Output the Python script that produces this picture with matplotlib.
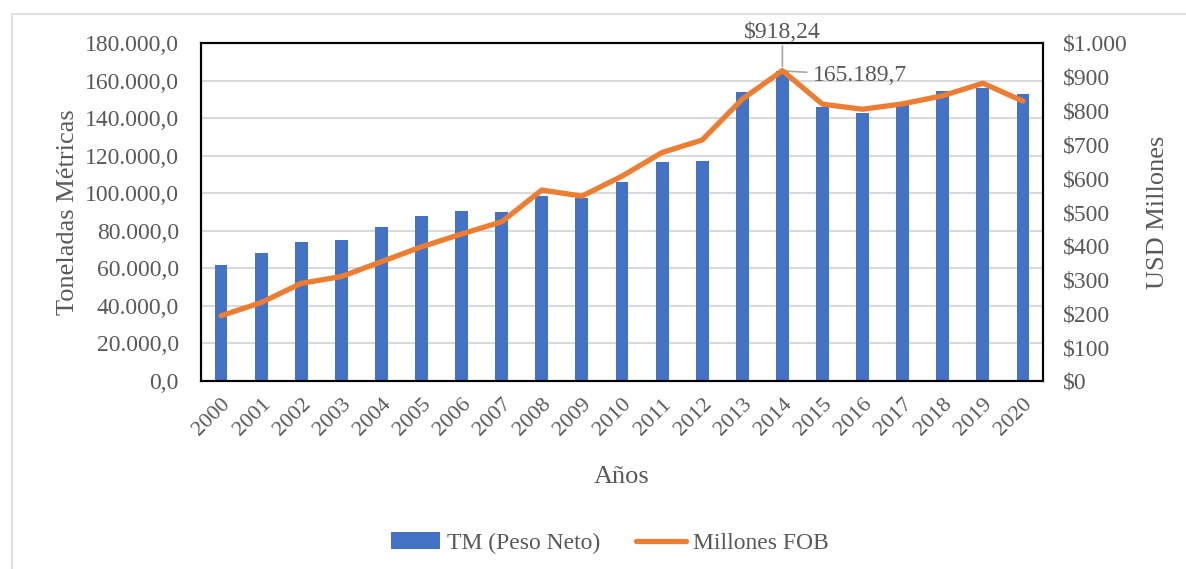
import matplotlib.pyplot as plt
from matplotlib.patches import Rectangle
from matplotlib.ticker import FuncFormatter

# datos
years = [str(y) for y in range(2000, 2021)]
toneladas = [61800, 68000, 73900, 75300, 82200, 87700, 90500, 90000, 98700, 97600,
             106100, 116600, 117300, 153700, 165189.7, 145700, 142900, 146800,
             154600, 156300, 152800]
millones_fob = [193, 232, 289, 309, 353, 397, 435, 471, 565, 547,
                606, 676, 713, 834, 918.24, 819, 804, 820, 844, 881, 828]

GRAY = '#595959'
BLUE = '#4472C4'
ORANGE = '#ED7D31'

plt.rcParams['font.family'] = ['Liberation Serif', 'DejaVu Serif']
plt.rcParams['font.size'] = 17

fig = plt.figure(figsize=(11.86, 5.69), dpi=100)
fig.patches.append(Rectangle((12 / 1186, -0.1), 1.2, (569 - 14) / 569 + 0.1,
                             transform=fig.transFigure, fill=False,
                             edgecolor='#d9d9d9', linewidth=1.2))

ax = fig.add_axes([201 / 1186, (569 - 381) / 569, 842 / 1186, 338 / 569])
x = list(range(len(years)))
ax.bar(x, toneladas, width=0.32, color=BLUE, label='TM (Peso Neto)', zorder=2)
ax.set_ylim(0, 180000)
ax.set_yticks(range(0, 180001, 20000))
ax.yaxis.set_major_formatter(FuncFormatter(
    lambda v, p: f"{v:,.1f}".replace(',', 'X').replace('.', ',').replace('X', '.')))
ax.set_xlim(-0.5, len(years) - 0.5)
ax.set_xticks(x)
ax.set_xticklabels(years, rotation=45, ha='right', rotation_mode='anchor')
ax.grid(axis='y', color='#d9d9d9', linewidth=1.5, zorder=0)
ax.set_axisbelow(True)
ax.tick_params(length=0, colors=GRAY, labelsize=17, pad=16)
ax.tick_params(axis='x', labelsize=16, pad=10)
for s in ax.spines.values():
    s.set_linewidth(1.5)
    s.set_color('black')
ax.set_ylabel('Toneladas Métricas', color=GRAY, fontsize=19, labelpad=4)
ax.set_xlabel('Años', color=GRAY, fontsize=19, labelpad=19)

ax2 = ax.twinx()
ax2.plot(x, millones_fob, color=ORANGE, linewidth=3.8, solid_capstyle='round',
         solid_joinstyle='round', label='Millones FOB', zorder=3)
ax2.set_ylim(0, 1000)
ax2.set_yticks(range(0, 1001, 100))
ax2.yaxis.set_major_formatter(FuncFormatter(lambda v, p: f"${v:,.0f}".replace(',', '.')))
ax2.tick_params(length=0, colors=GRAY, labelsize=17, pad=14)
for s in ax2.spines.values():
    s.set_linewidth(1.5)
ax2.set_ylabel('USD Millones', color=GRAY, fontsize=19, labelpad=14)

# etiquetas de 2014
i = 14
ax2.annotate(f"${millones_fob[i]:.2f}".replace('.', ','), xy=(i, millones_fob[i]),
             xytext=(i, 1000), textcoords='data', ha='center', va='bottom',
             color=GRAY, fontsize=17, annotation_clip=False,
             arrowprops=dict(arrowstyle='-', color='#a6a6a6', lw=1.2,
                             shrinkA=0, shrinkB=3))
ax.annotate("165.189,7", xy=(i, toneladas[i]), xytext=(i + 0.75, toneladas[i] - 2500),
            ha='left', va='center', color=GRAY, fontsize=17,
            arrowprops=dict(arrowstyle='-', color='#a6a6a6', lw=1.2,
                            shrinkA=2, shrinkB=3))

h1, l1 = ax.get_legend_handles_labels()
h2, l2 = ax2.get_legend_handles_labels()
fig.legend(h1 + h2, l1 + l2, loc='center', bbox_to_anchor=(0.514, 1 - 543 / 569),
           ncol=2, frameon=False, fontsize=17, labelcolor=GRAY,
           handlelength=2.1, columnspacing=1.5, handletextpad=0.3)

fig.savefig('out.png', dpi=100)
